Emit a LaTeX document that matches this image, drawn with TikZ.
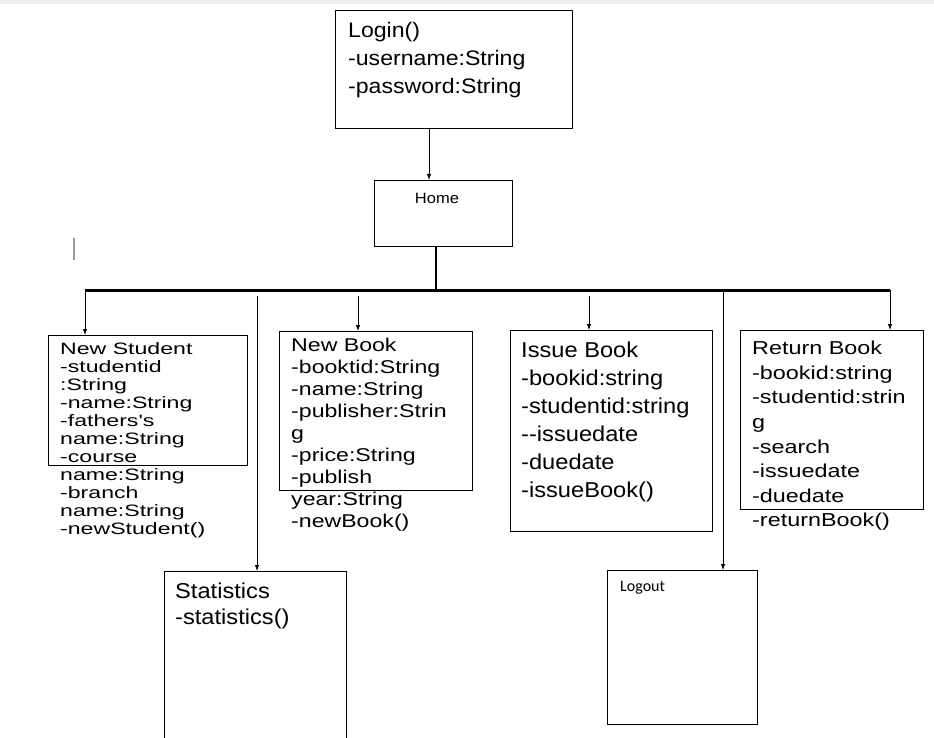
\documentclass[tikz,border=0pt]{standalone}
\usepackage{fontspec}
\newfontfamily\umlfont[FakeStretch=1.1]{Liberation Sans}
\newfontfamily\umlwide[FakeStretch=1.25]{Liberation Sans}
\newfontfamily\umlwider[FakeStretch=1.4]{Liberation Sans}
\newfontfamily\logfont{Carlito}
\usetikzlibrary{arrows.meta}

\begin{document}
\begin{tikzpicture}[x=1pt, y=-1pt, >={Latex[length=6pt,width=4.5pt]},
  box/.style={draw=black, line width=1.3pt, fill=white, anchor=north west, inner sep=0pt, },
  txt/.style={anchor=north west, inner sep=0pt, align=left, },
  link/.style={draw=black, line width=0.8pt, }]
\clip (0,0) rectangle (934,738);
\fill[white] (0,0) rectangle (934,738);
\fill[black!7] (0,0) rectangle (934,4);
\node[box, minimum width=237, minimum height=118] (login) at (335,10) {};
\node[box, minimum width=138, minimum height=66] (home) at (374,180) {};
\node[box, minimum width=199, minimum height=130] (stud) at (48,335) {};
\node[box, minimum width=193, minimum height=159] (book) at (279,331) {};
\node[box, minimum width=202, minimum height=201] (issue) at (510,330) {};
\node[box, minimum width=183, minimum height=179] (ret) at (740,330) {};
\node[box, minimum width=182, minimum height=190] (stat) at (164,571) {};
\node[box, minimum width=150, minimum height=154] (logout) at (607,570) {};
\node[txt, font=\umlfont\fontsize{21}{28}\selectfont] (logintxt) at (348,22) {Login()\\-username:String\\-password:String};
\node[inner sep=0pt, font=\umlfont\fontsize{15}{18}\selectfont] (hometxt) at (437,198) {Home};
\node[txt, font=\umlwider\fontsize{16.5}{18}\selectfont] (studtxt) at (60,342) {New Student\\-studentid\\:String\\-name:String\\-fathers's\\name:String\\-course\\name:String\\-branch\\name:String\\-newStudent()};
\node[txt, font=\umlwide\fontsize{18.5}{22}\selectfont] (booktxt) at (291,338) {New Book\\-booktid:String\\-name:String\\-publisher:Strin\\g\\-price:String\\-publish\\year:String\\-newBook()};
\node[txt, font=\umlfont\fontsize{21.5}{28}\selectfont] (issuetxt) at (521,342) {Issue Book\\-bookid:string\\-studentid:string\\-{}-issuedate\\-duedate\\-issueBook()};
\node[txt, font=\umlwide\fontsize{18.7}{24.6}\selectfont] (rettxt) at (752,341) {Return Book\\-bookid:string\\-studentid:strin\\g\\-search\\-issuedate\\-duedate\\-returnBook()};
\node[txt, font=\umlfont\fontsize{21.5}{26}\selectfont] (stattxt) at (175,583) {Statistics\\-statistics()};
\node[anchor=west, inner sep=0pt, font=\logfont\fontsize{16}{19}\selectfont] (logouttxt) at (620,588) {Logout};
% bus and taps
\coordinate (lh) at (429,128);
\coordinate (hb) at (436,246);
\coordinate (busw) at (85,290);
\coordinate (buse) at (890,290);
\coordinate (t1) at (85,290);
\coordinate (t2) at (257,296);
\coordinate (t3) at (358,296);
\coordinate (t4) at (589,296);
\coordinate (t5) at (723,290);
\coordinate (t6) at (890,290);
\draw [->, link] (lh) -- (lh |- home.north);
\draw [line width=2pt] (hb) -- (hb |- busw);
\draw [line width=3pt] (busw) -- (buse);
\draw [->, link] (t1) -- (t1 |- stud.north);
\draw [->, link] (t2) -- (t2 |- stat.north);
\draw [->, link] (t3) -- (t3 |- book.north);
\draw [->, link] (t4) -- (t4 |- issue.north);
\draw [->, link] (t5) -- (t5 |- logout.north);
\draw [->, link] (t6) -- (t6 |- ret.north);
\draw [black!40, line width=1.5pt] (74,238) -- (74,260);
\end{tikzpicture}
\end{document}
